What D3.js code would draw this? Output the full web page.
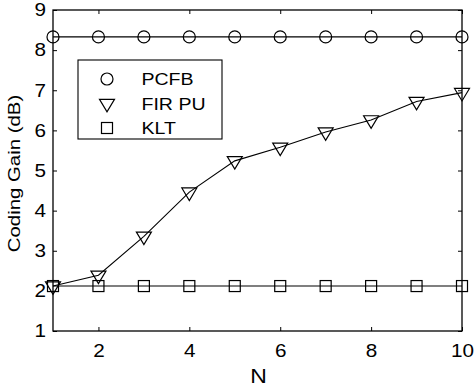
<!DOCTYPE html>
<html>
<head>
<meta charset="utf-8">
<script src="https://cdn.jsdelivr.net/npm/d3@7"></script>
<style>
  html, body { margin: 0; padding: 0; background: #fff; }
  svg { display: block; }
  text { font-family: "Liberation Sans", Arial, Helvetica, sans-serif; fill: #000; }
</style>
</head>
<body>
<script>
(function () {
  'use strict';

  // data
  const nValues = [1, 2, 3, 4, 5, 6, 7, 8, 9, 10];
  const pcfb   = [8.33, 8.33, 8.33, 8.33, 8.33, 8.33, 8.33, 8.33, 8.33, 8.33];
  const firPu  = [2.12, 2.39, 3.36, 4.46, 5.24, 5.58, 5.96, 6.26, 6.72, 6.94];
  const klt    = [2.12, 2.12, 2.12, 2.12, 2.12, 2.12, 2.12, 2.12, 2.12, 2.12];
  const seriesNames = ['PCFB', 'FIR PU', 'KLT'];
  const xTicks = [2, 4, 6, 8, 10];
  const yTicks = [1, 2, 3, 4, 5, 6, 7, 8, 9];

  const W = 474, H = 392;
  const plot = { left: 53, top: 10, right: 462, bottom: 331 };
  const SX = 1.15;      // the original font renders wider than Liberation Sans

  const svg = d3.select('body')
    .append('svg')
    .attr('width', W)
    .attr('height', H);

  const xScale = d3.scaleLinear().domain([1, 10]).range([plot.left, plot.right]);
  const yScale = d3.scaleLinear().domain([1, 9]).range([plot.bottom, plot.top]);

  // ---- markers ----
  function circle(g) {
    g.append('circle').attr('r', 6).attr('fill', 'none')
      .attr('stroke', '#000').attr('stroke-width', 1.2);
  }
  function triangle(g) {
    g.append('path').attr('d', 'M-7.5,-4.2L7.5,-4.2L0,8.3Z').attr('fill', 'none')
      .attr('stroke', '#000').attr('stroke-width', 1.2);
  }
  function square(g) {
    g.append('rect').attr('x', -5.5).attr('y', -5.5).attr('width', 11).attr('height', 11)
      .attr('fill', 'none').attr('stroke', '#000').attr('stroke-width', 1.2);
  }

  const series = [
    { name: seriesNames[0], values: pcfb, marker: circle },
    { name: seriesNames[1], values: firPu, marker: triangle },
    { name: seriesNames[2], values: klt, marker: square }
  ];

  // ---- axes (box with inward ticks on all sides) ----
  const tickLen = 4;
  svg.append('g')
    .attr('transform', `translate(0,${plot.bottom})`)
    .call(d3.axisBottom(xScale).tickValues(xTicks).tickSizeInner(-tickLen).tickSizeOuter(0).tickPadding(13))
    .call(g => g.select('.domain').remove());
  svg.append('g')
    .attr('transform', `translate(0,${plot.top})`)
    .call(d3.axisTop(xScale).tickValues(xTicks).tickSizeInner(-tickLen).tickSizeOuter(0).tickFormat(''))
    .call(g => g.select('.domain').remove());
  const yAxisG = svg.append('g')
    .attr('transform', `translate(${plot.left},0)`)
    .call(d3.axisLeft(yScale).tickValues(yTicks).tickSizeInner(-tickLen).tickSizeOuter(0).tickPadding(7))
    .call(g => g.select('.domain').remove());
  svg.append('g')
    .attr('transform', `translate(${plot.right},0)`)
    .call(d3.axisRight(yScale).tickValues(yTicks).tickSizeInner(-tickLen).tickSizeOuter(0).tickFormat(''))
    .call(g => g.select('.domain').remove());

  svg.selectAll('.tick line').attr('stroke', '#000').attr('stroke-width', 1);
  svg.selectAll('.tick text')
    .attr('font-size', '18px')
    .attr('font-family', '"Liberation Sans", Arial, sans-serif')
    .attr('fill', '#000')
    .attr('transform', `scale(${SX},1)`);
  yAxisG.selectAll('.tick text').attr('x', -7 / SX);

  svg.append('rect')
    .attr('x', plot.left).attr('y', plot.top)
    .attr('width', plot.right - plot.left).attr('height', plot.bottom - plot.top)
    .attr('fill', 'none').attr('stroke', '#000').attr('stroke-width', 1.3);

  // ---- lines and markers ----
  const line = d3.line()
    .x((d, i) => xScale(nValues[i]))
    .y(d => yScale(d));

  series.forEach(s => {
    svg.append('path')
      .datum(s.values)
      .attr('d', line)
      .attr('fill', 'none')
      .attr('stroke', '#000')
      .attr('stroke-width', 1.1);

    s.values.forEach((v, i) => {
      const g = svg.append('g')
        .attr('transform', `translate(${xScale(nValues[i])},${yScale(v)})`);
      s.marker(g);
    });
  });

  // ---- legend ----
  const legend = svg.append('g').attr('transform', 'translate(78,60)');
  legend.append('rect')
    .attr('width', 144).attr('height', 79)
    .attr('fill', '#fff').attr('stroke', '#000').attr('stroke-width', 1.1);

  series.forEach((s, i) => {
    const cy = 19 + i * 24.5;
    const g = legend.append('g').attr('transform', `translate(29,${cy})`);
    s.marker(g);
    legend.append('text')
      .attr('transform', `translate(63.5,${cy + 6}) scale(${SX},1)`)
      .attr('font-size', '17px')
      .text(s.name);
  });

  // ---- axis labels ----
  svg.append('text')
    .attr('transform', `translate(${(plot.left + plot.right) / 2 + 1},383) scale(${SX},1)`)
    .attr('text-anchor', 'middle')
    .attr('font-size', '20px')
    .text('N');

  svg.append('text')
    .attr('transform', `translate(20,173.5) rotate(-90) scale(1.2,1)`)
    .attr('text-anchor', 'middle')
    .attr('font-size', '17px')
    .text('Coding Gain (dB)');
})();
</script>
</body>
</html>
